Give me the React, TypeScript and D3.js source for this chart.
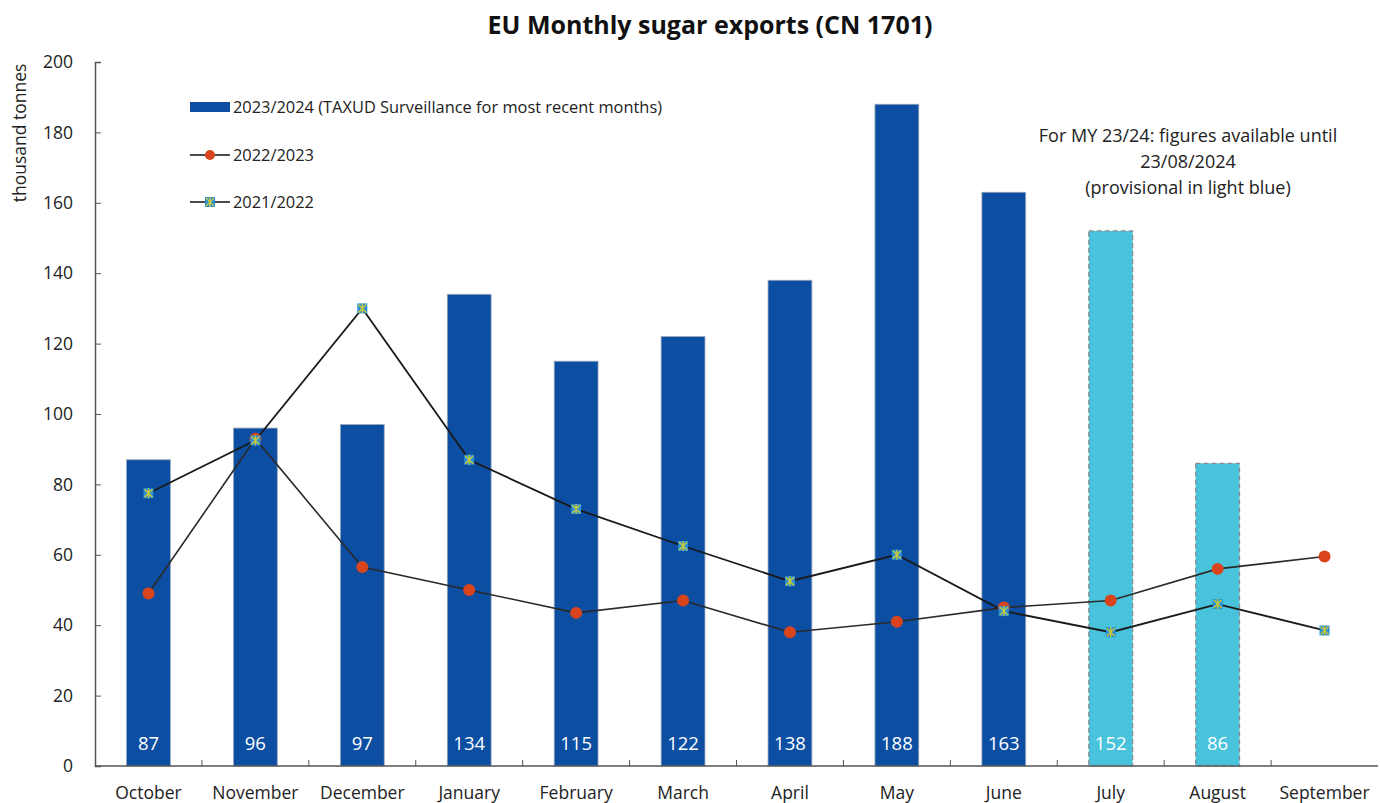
import React, { useEffect, useRef } from "react";
import * as d3 from "d3";

const MONTHS = ["October", "November", "December", "January", "February", "March", "April", "May", "June", "July", "August", "September"];
const EXPORTS_2324 = [87, 96, 97, 134, 115, 122, 138, 188, 163, 152, 86, null];
const PROVISIONAL = [false, false, false, false, false, false, false, false, false, true, true, false];
const EXPORTS_2223 = [49, 93, 56.5, 50, 43.5, 47, 38, 41, 45, 47, 56, 59.5];
const EXPORTS_2122 = [77.5, 92.5, 130, 87, 73, 62.5, 52.5, 60, 44, 38, 46, 38.5];
const Y_TICKS = [0, 20, 40, 60, 80, 100, 120, 140, 160, 180, 200];

const FONT = "'Open Sans', Roboto, sans-serif";

export default function App() {
  const svgRef = useRef<SVGSVGElement>(null);

  useEffect(() => {
    const width = 1380;
    const height = 803;
    const margin = { top: 62, right: 2, bottom: 37, left: 95 };
    const svg = d3.select(svgRef.current);
    svg.selectAll("*").remove();

    const chartWidth = width - margin.left - margin.right;
    const chartHeight = height - margin.top - margin.bottom;

    const g = svg.append("g").attr("transform", `translate(${margin.left},${margin.top})`);

    const x = d3.scaleBand().domain(MONTHS).range([0, chartWidth]).paddingInner(0).paddingOuter(0);
    const y = d3.scaleLinear().domain([0, 200]).range([chartHeight, 0]);
    const barW = x.bandwidth() * 0.41;
    const cx = (m: string) => (x(m) as number) + x.bandwidth() / 2;

    // Title
    svg.append("text")
      .attr("x", 710)
      .attr("y", 34)
      .attr("text-anchor", "middle")
      .attr("font-family", FONT)
      .attr("font-weight", "bold")
      .attr("font-size", "25px")
      .attr("fill", "#111")
      .text("EU Monthly sugar exports (CN 1701)");

    // Y label
    svg.append("text")
      .attr("transform", "translate(26,133) rotate(-90)")
      .attr("text-anchor", "middle")
      .attr("font-family", FONT)
      .attr("font-size", "17.5px")
      .attr("fill", "#222")
      .text("thousand tonnes");

    // Bars
    const bars = MONTHS.map((m, i) => ({ m, v: EXPORTS_2324[i], prov: PROVISIONAL[i] })).filter(d => d.v != null);
    g.selectAll(".bar")
      .data(bars)
      .enter()
      .append("rect")
      .attr("x", d => cx(d.m) - barW / 2)
      .attr("y", d => y(d.v as number))
      .attr("width", barW)
      .attr("height", d => chartHeight - y(d.v as number))
      .attr("fill", d => d.prov ? "#49C3DC" : "#0B4EA2")
      .attr("stroke", d => d.prov ? "#8a8a8a" : "#9aa7b8")
      .attr("stroke-width", d => d.prov ? 1.2 : 0.8)
      .attr("stroke-dasharray", d => d.prov ? "5,3" : null);

    g.selectAll(".barlabel")
      .data(bars)
      .enter()
      .append("text")
      .attr("x", d => cx(d.m))
      .attr("y", chartHeight - 16)
      .attr("text-anchor", "middle")
      .attr("font-family", FONT)
      .attr("font-size", "18.5px")
      .attr("fill", "#fff")
      .text(d => d.v as number);

    // Axes
    const yAxis = d3.axisLeft(y).tickValues(Y_TICKS).tickSize(-6).tickPadding(22);
    const ya = g.append("g").call(yAxis);
    ya.selectAll("text").attr("font-family", FONT).attr("font-size", "17.5px").attr("fill", "#222");

    const xa = g.append("g").attr("transform", `translate(0,${chartHeight})`);
    xa.append("line").attr("x1", 0).attr("x2", chartWidth).attr("stroke", "#555").attr("stroke-width", 1.5);
    xa.selectAll(".xt")
      .data(MONTHS.slice(1))
      .enter()
      .append("line")
      .attr("x1", d => x(d) as number)
      .attr("x2", d => x(d) as number)
      .attr("y1", 0)
      .attr("y2", -6)
      .attr("stroke", "#555");
    xa.selectAll(".xl")
      .data(MONTHS)
      .enter()
      .append("text")
      .attr("x", d => cx(d))
      .attr("y", 33)
      .attr("text-anchor", "middle")
      .attr("font-family", FONT)
      .attr("font-size", "17.5px")
      .attr("fill", "#222")
      .text(d => d);

    g.selectAll(".domain").attr("stroke", "#555").attr("stroke-width", 1.5);
    g.selectAll(".tick line").attr("stroke", "#555");

    // Lines
    const line = d3.line<number>().x((d, i) => cx(MONTHS[i])).y(d => y(d));
    g.append("path").datum(EXPORTS_2223).attr("d", line).attr("fill", "none").attr("stroke", "#2a2a2a").attr("stroke-width", 1.6);
    g.append("path").datum(EXPORTS_2122).attr("d", line).attr("fill", "none").attr("stroke", "#1a1a1a").attr("stroke-width", 1.8);

    const drawSquare = (sel: any, px: number, py: number) => {
      sel.append("rect").attr("x", px - 5).attr("y", py - 5).attr("width", 10).attr("height", 10).attr("fill", "#2A8FD3");
      sel.append("path")
        .attr("d", `M${px - 4},${py - 4}L${px + 4},${py + 4}M${px + 4},${py - 4}L${px - 4},${py + 4}M${px},${py - 5}L${px},${py + 5}`)
        .attr("stroke", "#C9C93A").attr("stroke-width", 1.4);
    };

    EXPORTS_2223.forEach((v, i) => {
      g.append("circle").attr("cx", cx(MONTHS[i])).attr("cy", y(v)).attr("r", 6).attr("fill", "#D9441C");
    });
    EXPORTS_2122.forEach((v, i) => drawSquare(g, cx(MONTHS[i]), y(v)));

    // Legend
    const lg = svg.append("g").attr("font-family", FONT).attr("font-size", "16.4px").attr("fill", "#222");
    lg.append("rect").attr("x", 190).attr("y", 102).attr("width", 40).attr("height", 10).attr("fill", "#0B4EA2");
    lg.append("text").attr("x", 233).attr("y", 113).attr("fill", "#222").text("2023/2024 (TAXUD Surveillance for most recent months)");
    lg.append("line").attr("x1", 190).attr("x2", 230).attr("y1", 155).attr("y2", 155).attr("stroke", "#111").attr("stroke-width", 1.5);
    lg.append("circle").attr("cx", 210).attr("cy", 155).attr("r", 5).attr("fill", "#D9441C");
    lg.append("text").attr("x", 233).attr("y", 161).attr("fill", "#222").text("2022/2023");
    lg.append("line").attr("x1", 190).attr("x2", 230).attr("y1", 202).attr("y2", 202).attr("stroke", "#111").attr("stroke-width", 1.5);
    drawSquare(lg, 210, 202);
    lg.append("text").attr("x", 233).attr("y", 208).attr("fill", "#222").text("2021/2022");

    // Annotation
    const notes = ["For MY 23/24: figures available until", "23/08/2024", "(provisional in light blue)"];
    svg.selectAll(".note")
      .data(notes)
      .enter()
      .append("text")
      .attr("x", 1188)
      .attr("y", (d, i) => 142 + i * 26)
      .attr("text-anchor", "middle")
      .attr("font-family", FONT)
      .attr("font-size", "18px")
      .attr("fill", "#222")
      .text(d => d);
  }, []);

  return <svg ref={svgRef} width={1380} height={803} style={{ display: "block", position: "absolute", left: 0, top: 0, background: "#fff" }} />;
}
